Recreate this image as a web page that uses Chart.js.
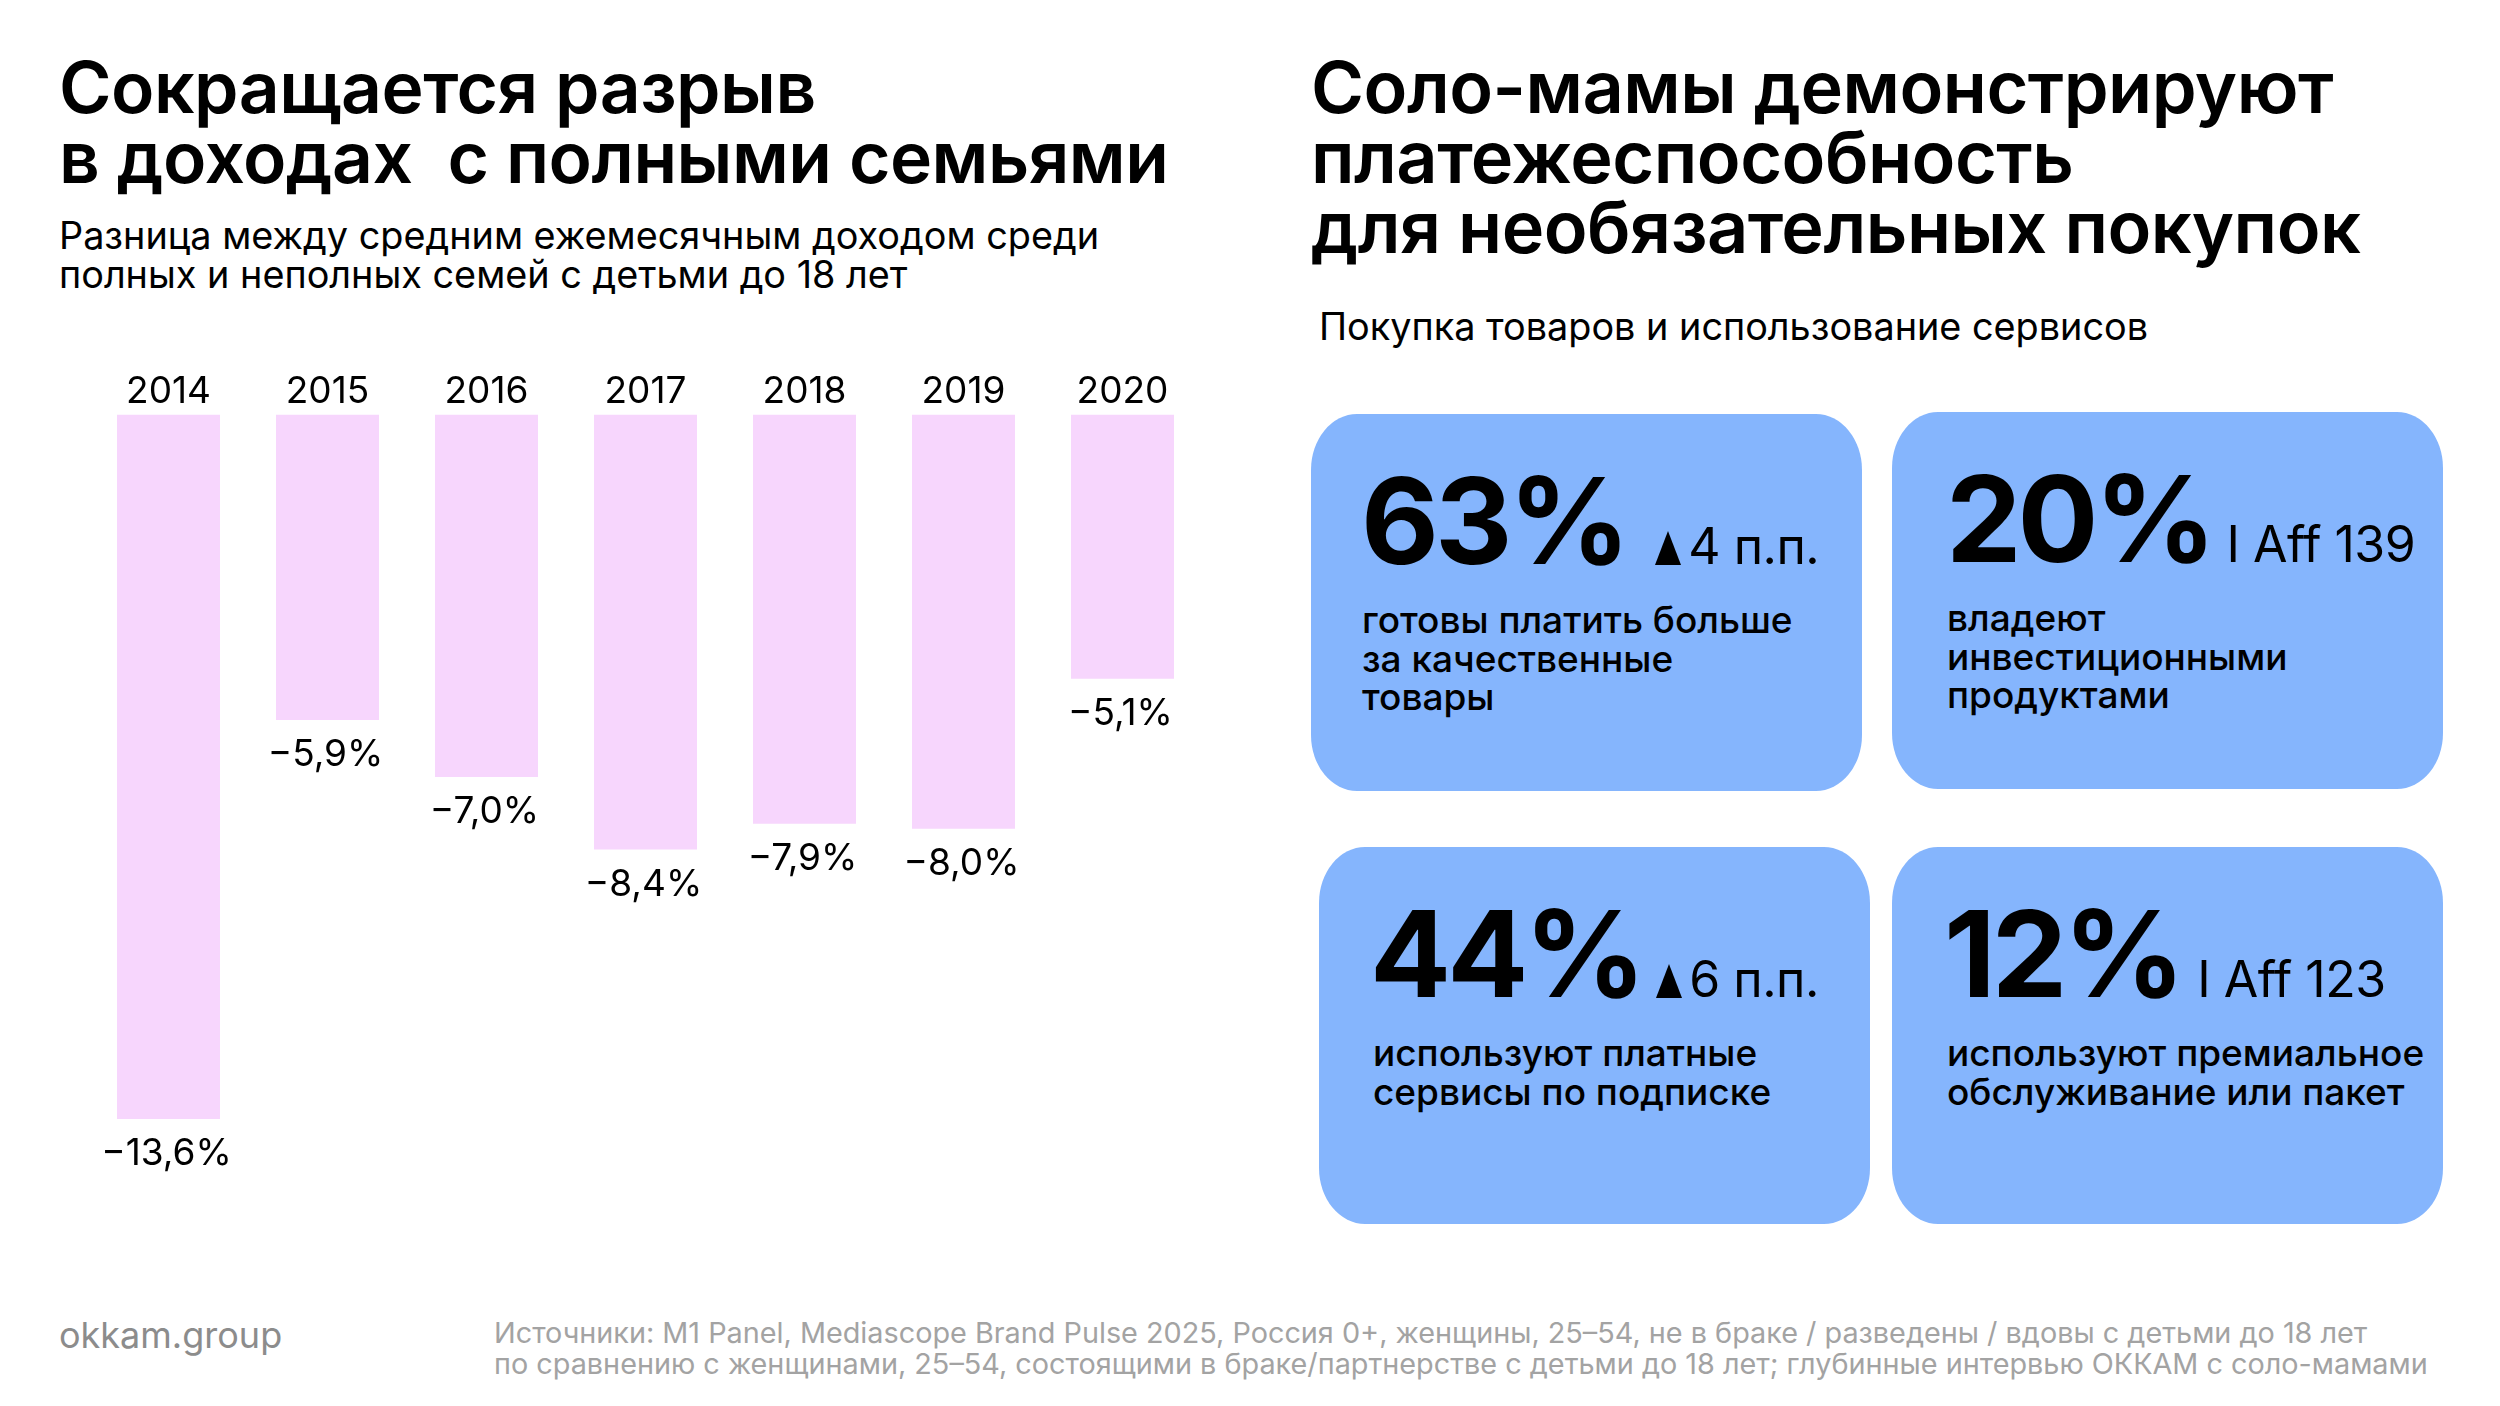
<!DOCTYPE html>
<html lang="ru">
<head>
<meta charset="utf-8">
<script src="https://cdn.jsdelivr.net/npm/chart.js@4.4.1/dist/chart.umd.min.js"></script>
<style>
  html, body { margin: 0; padding: 0; background: #fff; }
  body { width: 2500px; height: 1406px; position: relative; overflow: hidden; font-family: Inter, "Noto Sans", sans-serif; color: #000; }
  .title { position: absolute; font-weight: 600; font-size: 72px; line-height: 70px; letter-spacing: -0.5px; margin: 0; white-space: nowrap; }
  .sub { position: absolute; font-size: 37.8px; line-height: 38.5px; font-weight: 400; white-space: nowrap; }
  #chartBox { position: absolute; left: 89px; top: 350px; width: 1113px; height: 863px; }
  .card { position: absolute; width: 551px; height: 377px; background: #85b5fd; border-radius: 46px / 56px; }
  .card .big { position: absolute; top: 47px; font-weight: 700; font-size: 120px; line-height: 120px; letter-spacing: -4px; white-space: nowrap; }
  .card .big span { font-weight: 400; font-size: 50px; letter-spacing: -0.5px; display: inline-block; }
  .card .big i { display: inline-block; width: 0; height: 0; border-left: 13px solid transparent; border-right: 13px solid transparent; border-bottom: 34px solid #000; margin-right: 7px; vertical-align: baseline; position: relative; top: 1px; }
  .card .txt { position: absolute; top: 187px; font-size: 37px; line-height: 38.5px; font-weight: 500; white-space: nowrap; }
  .foot { position: absolute; color: #8c8c8c; white-space: nowrap; }
</style>
</head>
<body>
<div class="title" style="left:59px; top:52px; font-size:71.3px;">Сокращается разрыв<br>в доходах&nbsp; с полными семьями</div>
<div class="sub" style="left:59px; top:216px;">Разница между средним ежемесячным доходом среди<br>полных и неполных семей с детьми до 18 лет</div>
<div id="chartBox"><canvas id="c"></canvas></div>

<div class="title" style="left:1311px; top:52px;">Соло-мамы демонстрируют<br>платежеспособность<br>для необязательных покупок</div>
<div class="sub" style="left:1319px; top:307px;">Покупка товаров и использование сервисов</div>
<div id="cards"></div>

<div class="foot" style="left:59px; top:1313px; font-size:36px;">okkam.group</div>
<div class="foot" style="left:494px; top:1318px; font-size:28.8px; line-height:30.5px; color:#a3a3a3;">Источники: M1 Panel, Mediascope Brand Pulse 2025, Россия 0+, женщины, 25–54, не в браке / разведены / вдовы с детьми до 18 лет<br>по сравнению с женщинами, 25–54, состоящими в браке/партнерстве с детьми до 18 лет; глубинные интервью ОККАМ с соло-мамами</div>

<script>
var years = ['2014', '2015', '2016', '2017', '2018', '2019', '2020']
var gapValues = [-13.6, -5.9, -7.0, -8.4, -7.9, -8.0, -5.1]

var cardValues = ['63%', '20%', '44%', '12%']
var cardArrows = [true, false, true, false]
var cardNotes = ['4 п.п.', 'I Aff 139', '6 п.п.', 'I Aff 123']
var cardTexts = [
  'готовы платить больше<br>за качественные<br>товары',
  'владеют<br>инвестиционными<br>продуктами',
  'используют платные<br>сервисы по подписке',
  'используют премиальное<br>обслуживание или пакет'
]

// card layout: left, top, number x, note gap, text x
var cardLayout = [
  [1311, 414, 50, 29, 51],
  [1892, 412, 54, 14, 55],
  [1319, 847, 51, 14, 54],
  [1892, 847, 52, 16, 55]
]

var cardsEl = document.getElementById('cards')
cardValues.forEach(function (v, i) {
  var l = cardLayout[i]
  var d = document.createElement('div')
  d.className = 'card'
  d.style.left = l[0] + 'px'
  d.style.top = l[1] + 'px'
  var note = (cardArrows[i] ? '<i></i>' : '') + cardNotes[i]
  d.innerHTML = '<div class="big" style="left:' + l[2] + 'px">' + v +
    '<span style="margin-left:' + l[3] + 'px">' + note + '</span></div>' +
    '<div class="txt" style="left:' + l[4] + 'px">' + cardTexts[i] + '</div>'
  cardsEl.appendChild(d)
})

var fmt = function (v) {
  return '\u2212' + Math.abs(v).toFixed(1).replace('.', ',') + '%'
}

var valueLabels = {
  id: 'valueLabels',
  afterDatasetsDraw: function (chart) {
    var ctx = chart.ctx
    var meta = chart.getDatasetMeta(0)
    ctx.save()
    ctx.font = '400 37px Inter'
    ctx.fillStyle = '#000'
    ctx.textAlign = 'center'
    ctx.textBaseline = 'middle'
    meta.data.forEach(function (bar, i) {
      ctx.fillText(fmt(gapValues[i]), bar.x - 2, bar.y + 35)
    })
    ctx.restore()
  }
}

new Chart(document.getElementById('c'), {
  type: 'bar',
  data: {
    labels: years,
    datasets: [{
      data: gapValues,
      backgroundColor: '#f7d6fd',
      borderWidth: 0,
      barPercentage: 0.648,
      categoryPercentage: 1
    }]
  },
  options: {
    responsive: true,
    maintainAspectRatio: false,
    animation: false,
    layout: { padding: { top: 20, bottom: 94 } },
    plugins: { legend: { display: false }, tooltip: { enabled: false } },
    scales: {
      x: {
        position: 'top',
        grid: { display: false, tickLength: 0 },
        border: { display: false },
        ticks: { color: '#000', font: { family: 'Inter', size: 37 }, padding: 0 }
      },
      y: {
        display: false,
        min: -13.6,
        max: 0
      }
    }
  },
  plugins: [valueLabels]
})
</script>
</body>
</html>
